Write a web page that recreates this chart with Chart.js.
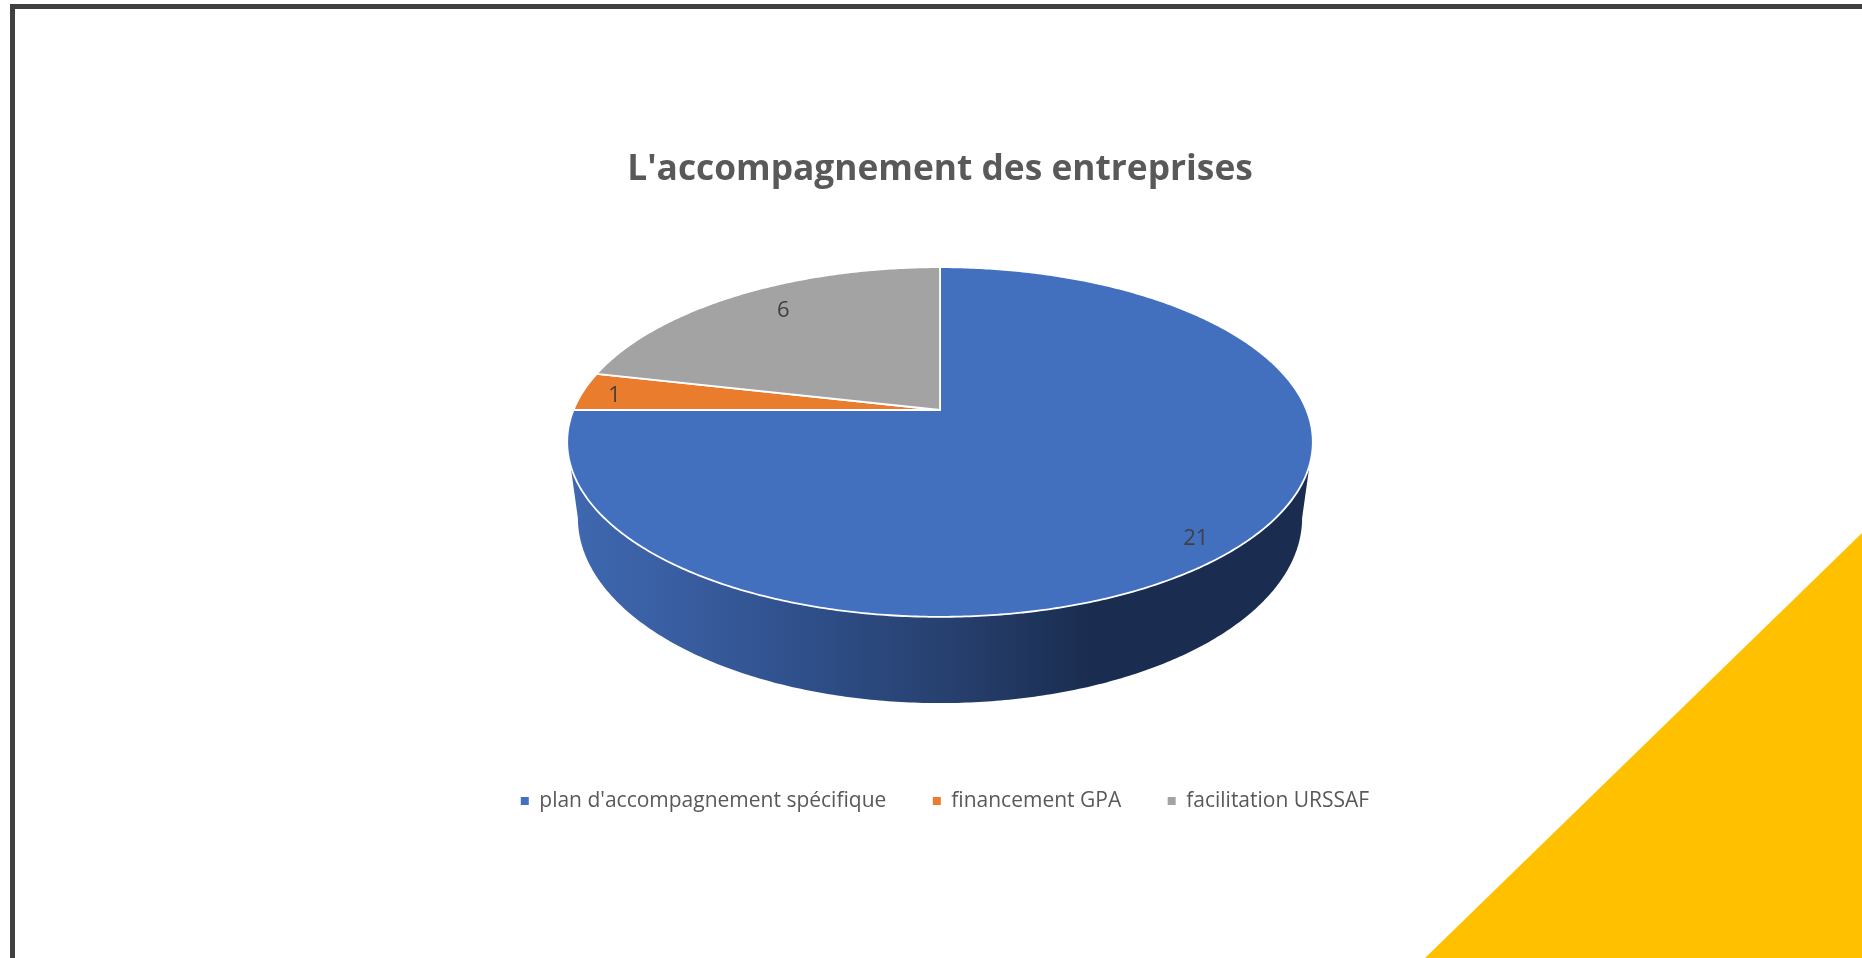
<!DOCTYPE html>
<html>
<head>
<meta charset="utf-8">
<title>L'accompagnement des entreprises</title>
<script src="https://cdn.jsdelivr.net/npm/chart.js@4"></script>
<style>
    html, body { margin: 0; padding: 0; background: #fff; }
    #page { position: relative; width: 1862px; height: 958px; overflow: hidden; background: #fff; }
    #frame { position: absolute; left: 10px; top: 4px; width: 1900px; height: 1000px; border: 5px solid #404040; box-sizing: border-box; }
    #corner { position: absolute; left: 0; top: 0; width: 1862px; height: 958px; background: #FFC000; clip-path: polygon(1425px 958px, 1862px 533px, 1862px 958px); }
    #chart { position: absolute; left: 14px; top: 0; }
</style>
</head>
<body>
<div id="page">
    <div id="frame"></div>
    <div id="corner"></div>
    <canvas id="chart" width="1852" height="958"></canvas>
</div>
<script>
const chartTitle = "L'accompagnement des entreprises";
const categories = ["plan d'accompagnement spécifique", "financement GPA", "facilitation URSSAF"];
const seriesValues = [21, 1, 6];
const sliceColors = ['#4270BF', '#EA7C2E', '#A3A3A3'];

// perspective of the disc, the slice angles still come from chart.js
const apexY = 410, radiusX = 366.5, radiusY = 169, tilt = 0.183;
const baseApexY = 484, baseRadiusX = 356, baseRadiusY = 179;

// where the value sits inside its slice
const labelRadius = [0.875, 0.91, 0.76];
const labelShift = [11, 3, -9];

function project(cx, angle, y0, rx, ry, r) {
    const u = Math.cos(angle) * r;
    const v = -Math.sin(angle) * r;
    const w = 1 + tilt * v;
    return [cx + rx * u / w, y0 - ry * v / w];
}

function traceArc(ctx, cx, from, to, y0, rx, ry) {
    const steps = Math.max(2, Math.ceil(Math.abs(to - from) / 0.01));
    for (let i = 0; i <= steps; i++) {
        const p = project(cx, from + (to - from) * i / steps, y0, rx, ry, 1);
        ctx.lineTo(p[0], p[1]);
    }
}

const pie3d = {
    id: 'pie3d',
    afterLayout(chart) {
        // legend sits a little right of the title in the original
        chart.legend.left += 5;
        chart.legend.right += 5;
    },
    beforeDatasetsDraw(chart) {
        const ctx = chart.ctx;
        const arcs = chart.getDatasetMeta(0).data;
        const cx = arcs[0].x;
        const frontStart = Math.asin(tilt);
        const frontEnd = Math.PI - frontStart;

        // side wall, only the front part shows and that is the big slice
        const grad = ctx.createLinearGradient(cx - 372, 0, cx + 372, 0);
        grad.addColorStop(0, '#3E68B0');
        grad.addColorStop(0.13, '#3A5FA3');
        grad.addColorStop(0.32, '#2F4F8A');
        grad.addColorStop(0.51, '#27406F');
        grad.addColorStop(0.7, '#1A2D50');
        grad.addColorStop(1, '#1A2D50');
        ctx.beginPath();
        traceArc(ctx, cx, frontStart, frontEnd, apexY, radiusX, radiusY);
        traceArc(ctx, cx, frontEnd, frontStart, baseApexY, baseRadiusX, baseRadiusY);
        ctx.closePath();
        ctx.fillStyle = grad;
        ctx.fill();

        // top face
        arcs.forEach((arc, i) => {
            ctx.beginPath();
            ctx.moveTo(cx, apexY);
            traceArc(ctx, cx, arc.startAngle, arc.endAngle, apexY, radiusX, radiusY);
            ctx.closePath();
            ctx.fillStyle = sliceColors[i];
            ctx.fill();
            ctx.strokeStyle = '#fff';
            ctx.lineWidth = 1.8;
            ctx.lineJoin = 'round';
            ctx.stroke();
        });

        // values
        ctx.fillStyle = '#404040';
        ctx.font = '22px "Open Sans"';
        ctx.textAlign = 'center';
        ctx.textBaseline = 'middle';
        arcs.forEach((arc, i) => {
            const mid = (arc.startAngle + arc.endAngle) / 2;
            const p = project(cx, mid, apexY, radiusX, radiusY, labelRadius[i]);
            ctx.fillText(String(seriesValues[i]), p[0], p[1] + labelShift[i]);
        });
        return false;
    }
};

new Chart(document.getElementById('chart'), {
    type: 'pie',
    data: {
        labels: categories,
        datasets: [{
            data: seriesValues,
            backgroundColor: sliceColors,
            borderWidth: 0
        }]
    },
    plugins: [pie3d],
    options: {
        responsive: false,
        animation: false,
        layout: { padding: { top: 0, bottom: 136.5 } },
        plugins: {
            tooltip: { enabled: false },
            title: {
                display: true,
                text: chartTitle,
                color: '#595959',
                font: { family: '"Open Sans"', size: 35.3, weight: 'bold' },
                padding: { top: 149, bottom: 10 }
            },
            legend: {
                position: 'bottom',
                labels: {
                    boxWidth: 8,
                    boxHeight: 8,
                    padding: 46.5,
                    color: '#595959',
                    font: { family: '"Open Sans"', size: 21 }
                }
            }
        }
    }
});
</script>
</body>
</html>
